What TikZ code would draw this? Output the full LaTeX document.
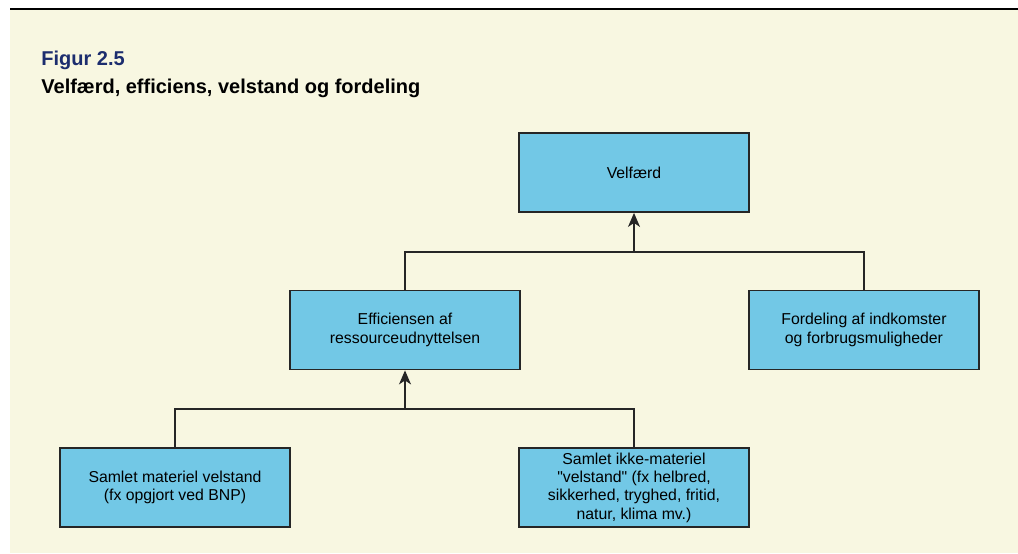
\documentclass[tikz,border=0pt]{standalone}
\usepackage{fontspec}
\setmainfont{Liberation Sans}[Ligatures=TeXOff]
\usepackage{xcolor}
\usetikzlibrary{positioning, arrows.meta}

\definecolor{baggrund}{RGB}{248,247,225}
\definecolor{kasseblaa}{RGB}{114,200,230}
\definecolor{titelblaa}{RGB}{28,45,110}

\tikzset{
    kasse/.style={draw=black!85, line width=0.9pt, fill=kasseblaa, rectangle,
        minimum width=115pt, minimum height=39.5pt, inner sep=0pt, align=center,
        font=\fontsize{7.9}{9.2}\selectfont},
    linje/.style={draw=black!85, line width=0.7pt},
    pil/.style={linje, -{Stealth[length=7pt, width=6pt, inset=2pt]}}
}

\begin{document}
\begin{tikzpicture}[x=0.5pt, y=-0.5pt]
    % Baggrund
    \useasboundingbox (0,0) rectangle (1018,553);
    \fill[baggrund] (10,10) rectangle (1018,553);
    \draw[line width=1pt] (10,9) -- (1018,9);

    % Titel
    \node[anchor=base west, inner sep=0pt, text=titelblaa, font=\fontsize{10}{12}\selectfont\bfseries] (fignr) at (41,65) {Figur 2.5};
    \node[anchor=base west, inner sep=0pt, font=\fontsize{10}{12}\selectfont\bfseries] (titel) at (41,93) {Velfærd, efficiens, velstand og fordeling};

    % Kasser
    \node[kasse] (velfaerd) at (634,172.5) {Velfærd};
    \node[kasse] (effic) at (405,330) {Efficiensen af\\ressourceudnyttelsen};
    \node[kasse] (fordel) at (864,330) {Fordeling af indkomster\\og forbrugsmuligheder};
    \node[kasse] (materiel) at (175,487.5) {Samlet materiel velstand\\(fx opgjort ved BNP)};
    \node[kasse] (ikkemat) at (634,487.5) {Samlet ikke-materiel\\"velstand" (fx helbred,\\sikkerhed, tryghed, fritid,\\natur, klima mv.)};

    % Forbindelser
    \coordinate (samling1) at (634,252);
    \coordinate (samling2) at (405,409);
    \draw[linje] (effic.north) |- (samling1) -| (fordel.north);
    \draw[pil] (samling1) -- (velfaerd.south);
    \draw[linje] (materiel.north) |- (samling2) -| (ikkemat.north);
    \draw[pil] (samling2) -- (effic.south);

\end{tikzpicture}
\end{document}
